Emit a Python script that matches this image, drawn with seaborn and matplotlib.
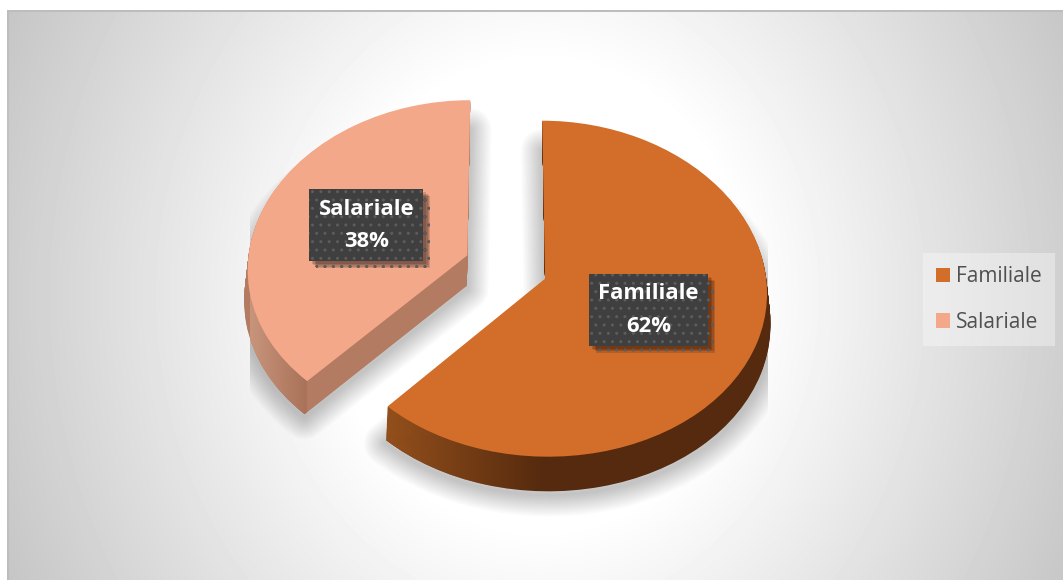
import numpy as np
import matplotlib
matplotlib.use("Agg")
import matplotlib.pyplot as plt
import matplotlib.patheffects as pe
from matplotlib.colors import to_rgb
from matplotlib.path import Path
from matplotlib.transforms import IdentityTransform, Transform
import seaborn as sns

categories = ["Familiale", "Salariale"]
shares = [62, 38]
top_colors = ["#D26D2A", "#F4A88A"]
side_colors = ["#552A0E", "#B27B62"]

W, H = 1063, 580
sns.set_theme(style="white")
plt.rcParams["font.family"] = ["Open Sans", "DejaVu Sans"]

fig = plt.figure(figsize=(W / 100, H / 100), dpi=100, facecolor="white")
ax = fig.add_axes([0, 0, 1, 1])

# view geometry: tilted disc, slightly larger towards the viewer
RX, CX = 220.0, 506.0
A, B, C = 267.0, 166.6, 10.0
PERSPECTIVE = 0.075
forward = lambda v: B * np.asarray(v) - C * np.asarray(v) ** 2
inverse = lambda u: (B - np.sqrt(np.maximum(B ** 2 - 4 * C * np.asarray(u), 0))) / (2 * C)


class Tilt(Transform):
    """Narrows the far side of the disc and widens the near side."""
    input_dims = output_dims = 2
    is_separable = False
    has_inverse = False

    def transform_non_affine(self, values):
        values = np.asarray(values, dtype=float)
        return np.column_stack([values[:, 0] * (1 - PERSPECTIVE * values[:, 1]), values[:, 1]])


pie_kw = dict(startangle=90, counterclock=False, explode=[0.19, 0.19], radius=1.0)
step = 1.0 / 170
depth_layers = 31

# background gradient, white in the middle and grey towards the corners
yy, xx = np.mgrid[10:H, 7:W]
rr = np.hypot(xx - 540, (yy - 295) * 0.88)
grey = (255 - 0.15 * np.clip(rr - 205, 0, None)) / 255
grey[:, :2] *= 0.95
grey[:2, :] = 0xBD / 255
ax.imshow(grey, cmap="gray", vmin=0, vmax=1, extent=(7, W, 0, H - 10), origin="upper",
          transform=IdentityTransform(), aspect="auto", zorder=0, interpolation="nearest")

# soft shadow under the slices (stroke only, cut off at the sides)
shadow_wedges = []
for k in range(1, 13):
    w, _ = ax.pie(shares, center=(0, -(depth_layers + 3) * step),
                  wedgeprops=dict(linewidth=k * 2.6, edgecolor="black",
                                  joinstyle="round", zorder=1), **pie_kw)
    shadow_wedges.extend(w)

# extruded sides
side_wedges = []
for k in range(depth_layers, 0, -1):
    w, _ = ax.pie(shares, colors=side_colors, center=(0, -k * step),
                  wedgeprops=dict(linewidth=0, zorder=2), **pie_kw)
    side_wedges.append(w)

# top faces
top, _, pct = ax.pie(shares, colors=top_colors, autopct="%d%%", pctdistance=0.5,
                     wedgeprops=dict(linewidth=0, zorder=4), **pie_kw)

ax.set_aspect("auto")
ax.set_yscale("function", functions=(forward, inverse))
ax.set_xlim((0 - CX) / RX, (W - CX) / RX)
ax.set_ylim(inverse(A - H), inverse(A))
ax.axis("off")

tilt = Tilt()
for w in ax.patches:
    w.set_transform(tilt + ax.transData)

shadow_clip = Path([(250, 0), (768, 0), (768, H), (250, H), (250, 0)], closed=True)
for w in shadow_wedges:
    w.set_facecolor("none")
    w.set_edgecolor((0, 0, 0, 0.018))
    w.set_clip_on(True)
    w.set_clip_path(shadow_clip, IdentityTransform())


def side_clip(i):
    paths = [g[i].get_transform().transform_path(g[i].get_path()) for g in side_wedges]
    return Path.make_compound_path(*paths)


def ramp(start, end, n=120):
    arr = np.ones((1, n, 4))
    arr[..., :3] = np.linspace(to_rgb(start), to_rgb(end), n)[None, :, :]
    return arr


# lighter left end of the large slice's side
shade = ramp("#94501C", "#94501C", 160)
shade[..., 3] = np.linspace(1, 0, 160)
im = ax.imshow(shade, extent=(385, 545, 0, H), origin="upper", transform=IdentityTransform(),
               aspect="auto", zorder=3, interpolation="bilinear")
im.set_clip_path(side_clip(0), IdentityTransform())

# shaded rim of the small slice
im2 = ax.imshow(ramp("#C8947C", "#A97259"), extent=(250, 307, 0, H), origin="upper",
                transform=IdentityTransform(), aspect="auto", zorder=3, interpolation="bilinear")
im2.set_clip_path(side_clip(1), IdentityTransform())

ax.set_xlim((0 - CX) / RX, (W - CX) / RX)
ax.set_ylim(inverse(A - H), inverse(A))

# data labels
box_shadow = [pe.SimplePatchShadow(offset=(d, -d), shadow_rgbFace="black", alpha=0.14) for d in (5, 4, 3, 2)]
for t, cat, val in zip(pct, categories, shares):
    x_lab, y_lab = t.get_position()
    t.set_position((x_lab + 1.5 / RX, y_lab))
    t.set_text(f"{cat}\n{val}%")
    t.set(color="white", fontweight="bold", fontsize=15.8, ha="center", va="center",
          linespacing=1.72, zorder=6)
    t.set_bbox(dict(boxstyle="square,pad=0.42", facecolor="#3F3F3F", edgecolor="#5C5C5C",
                    linewidth=0, hatch=".."))
    t.get_bbox_patch().set_path_effects(box_shadow + [pe.Normal()])

leg = ax.legend(top, categories, loc="center", bbox_to_anchor=(989, H - 299.5),
                bbox_transform=IdentityTransform(), frameon=True, fontsize=15,
                handlelength=0.68, handleheight=0.68, handletextpad=0.3, labelspacing=1.18,
                borderpad=0.62, borderaxespad=0, fancybox=False, labelcolor="#505050")
leg.get_frame().set(facecolor="white", alpha=0.35, edgecolor="none", linewidth=0)
leg.set_zorder(7)

fig.savefig("out.png", dpi=100)
